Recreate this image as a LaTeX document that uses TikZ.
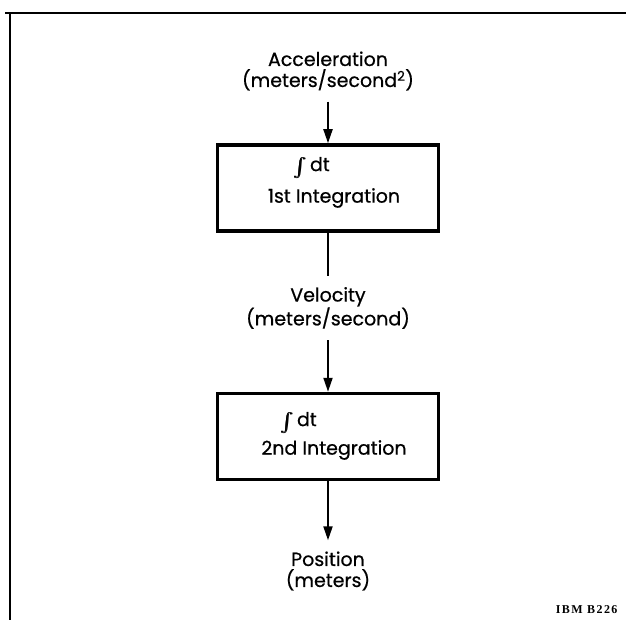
\documentclass[tikz,border=0pt]{standalone}
\usepackage{amsmath}
\usepackage{fontspec}
\newfontfamily\diagfont{Poppins}[BoldFont = Poppins, BoldFeatures = {FakeBold = 0.6}]
\newfontfamily\notefont{Liberation Serif}
\usetikzlibrary{arrows.meta}
\tikzset{
    quantity/.style = {align = center, inner xsep = 0pt, inner ysep = 11pt,
        font = \diagfont\bfseries\fontsize{19}{21}\selectfont},
    inttext/.style = {inner sep = 0pt, font = \diagfont\bfseries\fontsize{19}{21}\selectfont},
    intbox/.style = {draw, line width = 3.5pt, minimum width = 221pt,
        minimum height = 86pt, inner sep = 0pt},
    flow/.style = {line width = 2pt, -{Triangle[length = 14pt, width = 9pt]}},
    link/.style = {line width = 2pt}
}
\newcommand{\intsign}{\raisebox{-0.2ex}{\scalebox{1.1}{$\pmb{\int}$}}}
\begin{document}
\begin{tikzpicture}[x = 1pt, y = -1pt]
        \useasboundingbox (0,0) rectangle (626,620);
        % frame
        \begin{scope}[line width = 2.5pt]
            \draw (626,13) -- (5,13);
            \draw (10,13) -- (10,620);
        \end{scope}
        % quantities
        \node[quantity] (accel) at (328,71) {Acceleration\\(meters/second\textsuperscript{2})};
        \node[quantity] (vel) at (328,308) {Velocity\\(meters/second)};
        \node[quantity] (pos) at (328,571) {Position\\(meters)};
        % integrators
        \node[intbox] (int1) at (328,188) {};
        \node[inttext, anchor = west] (int1sym) at (294,168) {\intsign\,dt};
        \node[inttext] (int1name) at (334,198) {1st Integration};
        \node[intbox] (int2) at (328,436.5) {};
        \node[inttext, anchor = west] (int2sym) at (281,423) {\intsign\,dt};
        \node[inttext] (int2name) at (334,450) {2nd Integration};
        % connectors
        \draw[flow] (accel) -- (int1);
        \draw[link] (int1) -- (vel);
        \draw[flow] (vel) -- (int2);
        \draw[flow] (int2) -- (pos);
        \node[anchor = east, font = \notefont\bfseries\fontsize{12}{13}\selectfont\addfontfeature{LetterSpace = 12}] (ref) at (621,610) {IBM B226};
    \end{tikzpicture}
\end{document}
